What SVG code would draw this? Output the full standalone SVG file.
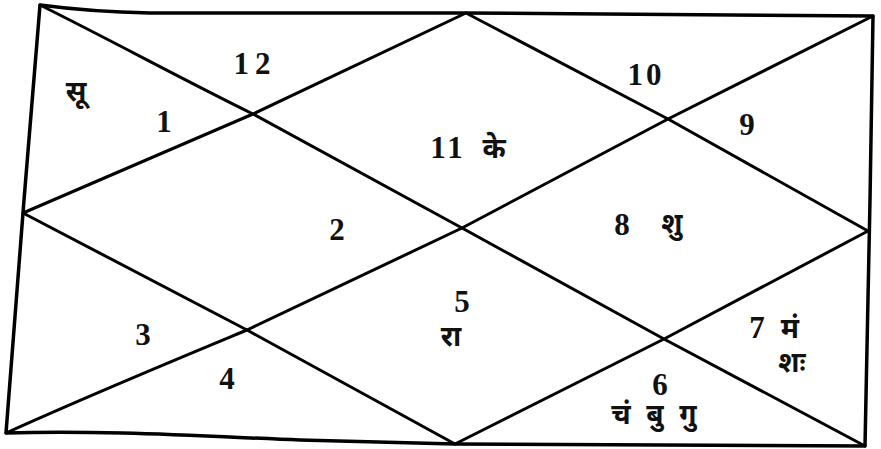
<svg xmlns="http://www.w3.org/2000/svg" width="881" height="449" viewBox="0 0 881 449">
<style>
.ln{fill:none;stroke:#000;stroke-width:3;stroke-linejoin:round;stroke-linecap:round}
.fr{stroke-width:3.5}
.n{font-family:"Liberation Serif","Times New Roman",serif;font-weight:bold;font-size:31px;fill:#111}
.d{font-family:"Noto Sans Devanagari","Noto Serif Devanagari","Lohit Devanagari","FreeSerif","Noto Sans",sans-serif;font-weight:bold;font-size:28px;fill:#111}
</style>
<rect width="881" height="449" fill="#fff"/>
<g id="connectors">
<path class="ln fr" d="M40,5 C70,9 100,12 150,13 L466,13 L873,16 L870,200 L865,446 L455,444 L300,440 C200,436 100,430 6,433 L24,200 Z"/>
<path class="ln" d="M40,5 C120,45 180,78 253,114 L462,228 L664,339 L865,446"/>
<path class="ln" d="M6,433 C90,395 170,362 247,330 L462,228 L668,119 L873,16"/>
<path class="ln" d="M466,13 L253,114 L23,213 L247,330 L455,444 L664,339 L868,231 L668,119 Z"/>
</g>
<g id="house1"><text class="n" x="164" y="132" text-anchor="middle">1</text><text class="d" x="76" y="101" text-anchor="middle" font-size="30">सू</text></g>
<g id="house2"><text class="n" x="337" y="240" text-anchor="middle">2</text></g>
<g id="house3"><text class="n" x="143" y="345" text-anchor="middle">3</text></g>
<g id="house4"><text class="n" x="227" y="389" text-anchor="middle">4</text></g>
<g id="house5"><text class="n" x="462" y="312" text-anchor="middle">5</text><text class="d" x="451" y="346" text-anchor="middle">रा</text></g>
<g id="house6"><text class="n" x="660" y="395" text-anchor="middle">6</text><text class="d" x="621" y="424" text-anchor="middle">चं</text><text class="d" x="655" y="424" text-anchor="middle">बु</text><text class="d" x="688" y="424" text-anchor="middle">गु</text></g>
<g id="house7"><text class="n" x="757" y="338" text-anchor="middle">7</text><text class="d" x="790" y="338" text-anchor="middle">मं</text><text class="d" x="792" y="372" text-anchor="middle">शः</text></g>
<g id="house8"><text class="n" x="622" y="235" text-anchor="middle">8</text><text class="d" x="672" y="233" text-anchor="middle">शु</text></g>
<g id="house9"><text class="n" x="747" y="135" text-anchor="middle">9</text></g>
<g id="house10"><text class="n" x="646" y="85" text-anchor="middle" letter-spacing="3">10</text></g>
<g id="house11"><text class="n" x="448" y="158" text-anchor="middle" letter-spacing="3">11</text><text class="d" x="494" y="158" text-anchor="middle">के</text></g>
<g id="house12"><text class="n" x="255" y="74" text-anchor="middle" letter-spacing="6">12</text></g>
</svg>
